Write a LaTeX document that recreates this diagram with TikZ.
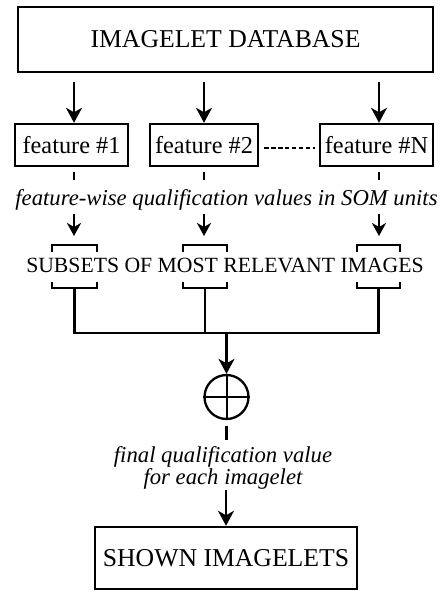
\documentclass[tikz,border=0pt]{standalone}
\usepackage{fontspec}
\setmainfont{Liberation Serif}
\usetikzlibrary{arrows.meta}
\begin{document}
\begin{tikzpicture}[x=1pt,y=-1pt,
  line width=2.3pt,
  box/.style={draw, rectangle, inner sep=0pt, line width=2.4pt},
  bigtext/.style={font=\fontsize{25.7}{27}\selectfont},
  feattext/.style={font=\fontsize{24.3}{26}\selectfont},
  captext/.style={font=\fontsize{21.7}{23}\selectfont},
  notetext/.style={font=\fontsize{22.7}{22.3}\selectfont\itshape},
  flow/.style={-{Stealth[length=15pt,width=16pt,inset=4.5pt]}},
  flowsmall/.style={-{Stealth[length=13pt,width=14pt,inset=4pt]}},
  bracket/.style={line width=2.3pt}]
\useasboundingbox (0,0) rectangle (442,592);

% boxes
\node[box, bigtext, minimum width=415pt, minimum height=65pt] (db) at (225.5,39.5) {IMAGELET DATABASE};
\node[box, feattext, minimum width=113pt, minimum height=42pt] (f1) at (71.5,145) {feature \#1};
\node[box, feattext, minimum width=108pt, minimum height=42pt] (f2) at (204,145) {feature \#2};
\node[box, feattext, minimum width=113pt, minimum height=42pt] (fN) at (376.5,145) {feature \#N};

% arrows from the database to the features
\coordinate (d1) at (74,82);
\coordinate (d2) at (204,82);
\coordinate (d3) at (379,82);
\draw[flow] (d1) -- (d1 |- f1.north);
\draw[flow] (d2) -- (d2 |- f2.north);
\draw[flow] (d3) -- (d3 |- fN.north);

% dotted continuation between feature #2 and feature #N
\draw[line width=2.6pt, dash pattern=on 4.5pt off 2.4pt]
  ([xshift=5pt,yshift=-3pt]f2.east) -- ([xshift=-4pt,yshift=-3pt]fN.west);

% ticks below the features
\coordinate (k1) at (74,172);
\coordinate (k2) at (204,172);
\coordinate (k3) at (379,172);
\draw (k1) -- ++(0,8);
\draw (k2) -- ++(0,8);
\draw (k3) -- ++(0,8);

\node[notetext, anchor=base] (qv) at (226.5,205) {feature-wise qualification values in SOM units};

% short arrows into the subsets
\coordinate (t1) at (74,214);
\coordinate (t2) at (204,214);
\coordinate (t3) at (379,214);
\coordinate (u1) at (74,236);
\coordinate (u2) at (204,236);
\coordinate (u3) at (379,236);
\draw[flowsmall] (t1) -- (u1);
\draw[flowsmall] (t2) -- (u2);
\draw[flowsmall] (t3) -- (u3);

% brackets around the subsets
\draw[bracket] (52,252) -- (52,245) -- (97,245) -- (97,252);
\draw[bracket] (183,252) -- (183,245) -- (227,245) -- (227,252);
\draw[bracket] (357,252) -- (357,245) -- (400,245) -- (400,252);
\node[captext, anchor=base] (subs) at (225,272) {SUBSETS OF MOST RELEVANT IMAGES};
\draw[bracket] (52,282) -- (52,288) -- (97,288) -- (97,282);
\draw[bracket] (183,282) -- (183,288) -- (227,288) -- (227,282);
\draw[bracket] (357,282) -- (357,288) -- (400,288) -- (400,282);

% merging the subsets
\coordinate (s1) at (74.5,288);
\coordinate (s2) at (205,288);
\coordinate (s3) at (378.5,288);
\coordinate (join) at (226.5,333);
\draw (s1) -- (s1 |- join) -- (s3 |- join) -- (s3);
\draw (s2) -- (s2 |- join);

% combination operator
\node[draw, circle, minimum size=44pt, inner sep=0pt, line width=2.3pt] (sum) at (226.5,397) {};
\draw[line width=2pt] (sum.north) -- (sum.south);
\draw[line width=2pt] (sum.west) -- (sum.east);
\draw[flow] (join) -- (sum.north);

\coordinate (c1) at (226.5,426);
\draw (c1) -- ++(0,14);

\node[notetext, align=center] (fq) at (223,467.7) {final qualification value\\for each imagelet};

\node[box, bigtext, minimum width=262pt, minimum height=62pt] (out) at (226,558) {SHOWN IMAGELETS};
\coordinate (e) at (226,490);
\draw[flow] (e) -- (e |- out.north);
\end{tikzpicture}
\end{document}
